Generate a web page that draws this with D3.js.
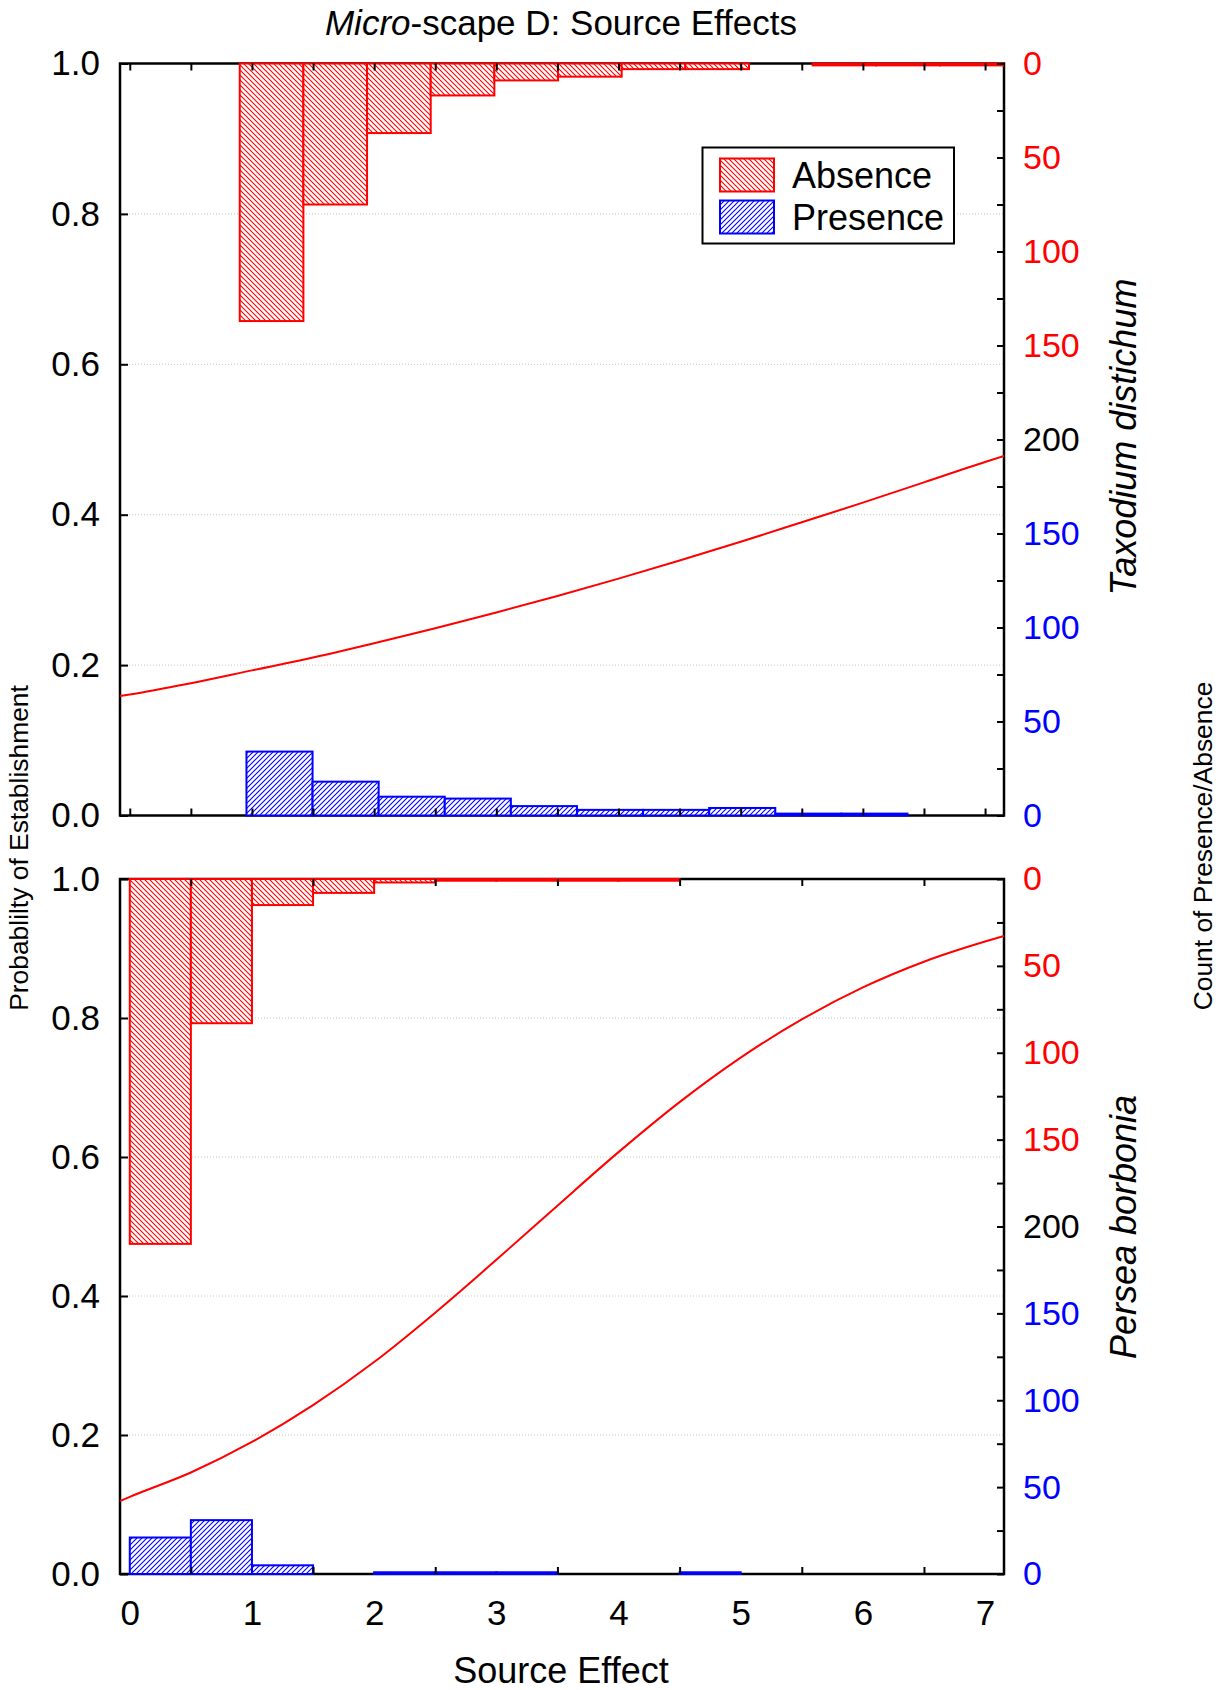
<!DOCTYPE html>
<html>
<head>
<meta charset="utf-8">
<script src="https://cdn.jsdelivr.net/npm/d3@7"></script>
<style>
  body { margin: 0; background: #fff; }
  svg { display: block; }
  text { font-family: "Liberation Sans", Arial, sans-serif; }
</style>
</head>
<body>
<svg id="chart" width="1225" height="1690"></svg>
<script>
// ---- axis values ----
const probTicks = [0, 0.2, 0.4, 0.6, 0.8, 1.0];
const probGrid = [0.2, 0.4, 0.6, 0.8];
const xLabelTicks = [0, 1, 2, 3, 4, 5, 6, 7];
const xHalfTicks = [0, 0.5, 1, 1.5, 2, 2.5, 3, 3.5, 4, 4.5, 5, 5.5, 6, 6.5, 7];
const xOddHalfTicks = [0.5, 1.5, 2.5, 3.5, 4.5, 5.5, 6.5];
const countTicks = [0, 25, 50, 75, 100, 125, 150, 175, 200, 225, 250, 275, 300, 325, 350, 375, 400];
const countLabelAt = [0, 50, 100, 150, 200, 250, 300, 350, 400];
const countLabelText = ["0", "50", "100", "150", "200", "150", "100", "50", "0"];

// ---- Taxodium distichum ----
const taxodiumAbsenceEdges = [0.9, 1.421, 1.942, 2.463, 2.984, 3.505, 4.026, 4.547, 5.068, 5.589, 6.11, 6.631, 7.152, 7.673];
const taxodiumAbsenceCounts = [137, 75, 37, 17, 9, 7, 3, 3, 0, 1, 1, 1, 1];
const taxodiumPresenceEdges = [0.955, 1.496, 2.037, 2.578, 3.119, 3.66, 4.201, 4.742, 5.283, 5.824, 6.365];
const taxodiumPresenceCounts = [34, 18, 10, 9, 5, 3, 3, 4, 1, 1];
const taxodiumCurveX = [-0.08, 0, 0.5, 1, 1.5, 2, 2.5, 3, 3.5, 4, 4.5, 5, 5.5, 6, 6.5, 7, 7.155];
const taxodiumCurveP = [0.159, 0.161, 0.176, 0.193, 0.21, 0.229, 0.249, 0.27, 0.292, 0.315, 0.339, 0.364, 0.39, 0.416, 0.443, 0.47, 0.478];

// ---- Persea borbonia ----
const perseaEdges = [0, 0.5, 1, 1.5, 2, 2.5, 3, 3.5, 4, 4.5, 5];
const perseaAbsenceCounts = [210, 83, 15, 8, 2, 1, 1, 1, 1, 0];
const perseaPresenceCounts = [21, 31, 5, 0, 1, 1, 1, 0, 0, 1];
const perseaCurveX = [-0.08, 0, 0.5, 1, 1.5, 2, 2.5, 3, 3.5, 4, 4.5, 5, 5.5, 6, 6.5, 7, 7.155];
const perseaCurveP = [0.105, 0.111, 0.146, 0.19, 0.243, 0.305, 0.376, 0.452, 0.53, 0.607, 0.679, 0.743, 0.798, 0.844, 0.881, 0.91, 0.918];

const legendNames = ["Absence", "Presence"];

// ---- layout ----
const svg = d3.select("#chart");
const L = 120, R = 1004;
const RED = "#ff0000", BLUE = "#0000ff";
const x = d3.scaleLinear().domain([-0.08, 7.155]).range([L, R]);

const defs = svg.append("defs");
function hatch(id, color, dir) {
  const s = 5;
  const p = defs.append("pattern").attr("id", id)
    .attr("patternUnits", "userSpaceOnUse").attr("width", s).attr("height", s);
  p.append("rect").attr("width", s).attr("height", s).attr("fill", "#fff");
  const d = dir === "back"
    ? `M0,0L${s},${s}M-1,${s - 1}L1,${s + 1}M${s - 1},-1L${s + 1},1`
    : `M0,${s}L${s},0M-1,1L1,-1M${s - 1},${s + 1}L${s + 1},${s - 1}`;
  p.append("path").attr("d", d).attr("stroke", color).attr("stroke-width", 1.1);
}
hatch("hatchAbs", RED, "back");
hatch("hatchPres", BLUE, "fwd");

const panels = [
  { top: 63.5, bottom: 815.5, species: "Taxodium distichum", speciesY: 437,
    absEdges: taxodiumAbsenceEdges, absCounts: taxodiumAbsenceCounts,
    presEdges: taxodiumPresenceEdges, presCounts: taxodiumPresenceCounts,
    curveX: taxodiumCurveX, curveP: taxodiumCurveP, xTicks: xHalfTicks, legend: true },
  { top: 879, bottom: 1574, species: "Persea borbonia", speciesY: 1227,
    absEdges: perseaEdges, absCounts: perseaAbsenceCounts,
    presEdges: perseaEdges, presCounts: perseaPresenceCounts,
    curveX: perseaCurveX, curveP: perseaCurveP, xTicks: xOddHalfTicks, legend: false }
];

function styleAxis(g, fontSize) {
  g.select(".domain").remove();
  g.selectAll(".tick line").attr("stroke", "#000").attr("stroke-width", 2);
  g.selectAll(".tick text").attr("fill", "#000").attr("font-size", fontSize)
    .attr("font-family", "\"Liberation Sans\", Arial, sans-serif");
}

panels.forEach((pn, i) => {
  const { top, bottom } = pn;
  const yP = d3.scaleLinear().domain([0, 1]).range([bottom, top]);
  const yAbs = d3.scaleLinear().domain([0, 400]).range([top, bottom]);
  const yPres = d3.scaleLinear().domain([0, 400]).range([bottom, top]);
  const g = svg.append("g");

  const clipId = "clip" + i;
  defs.append("clipPath").attr("id", clipId).append("rect")
    .attr("x", L).attr("y", top - 2).attr("width", R - L).attr("height", bottom - top + 4);

  // dotted gridlines
  g.append("g").selectAll("line").data(probGrid).join("line")
    .attr("x1", L).attr("x2", R).attr("y1", d => yP(d)).attr("y2", d => yP(d))
    .attr("stroke", "#c8c8c8").attr("stroke-width", 1).attr("stroke-dasharray", "1,2");

  // frame
  g.append("rect").attr("x", L).attr("y", top).attr("width", R - L).attr("height", bottom - top)
    .attr("fill", "none").attr("stroke", "#000").attr("stroke-width", 2.5);

  const bars = g.append("g").attr("clip-path", `url(#${clipId})`);
  // absence counts hang from the top edge
  bars.append("g").selectAll("rect")
    .data(pn.absCounts.map((c, k) => ({ c, x0: pn.absEdges[k], x1: pn.absEdges[k + 1] })).filter(d => d.c > 0))
    .join("rect")
    .attr("x", d => x(d.x0)).attr("width", d => x(d.x1) - x(d.x0))
    .attr("y", top).attr("height", d => yAbs(d.c) - top)
    .attr("fill", "url(#hatchAbs)").attr("stroke", RED).attr("stroke-width", 2);
  // presence counts rise from the bottom edge
  bars.append("g").selectAll("rect")
    .data(pn.presCounts.map((c, k) => ({ c, x0: pn.presEdges[k], x1: pn.presEdges[k + 1] })).filter(d => d.c > 0))
    .join("rect")
    .attr("x", d => x(d.x0)).attr("width", d => x(d.x1) - x(d.x0))
    .attr("y", d => yPres(d.c)).attr("height", d => bottom - yPres(d.c))
    .attr("fill", "url(#hatchPres)").attr("stroke", BLUE).attr("stroke-width", 2);

  // fitted probability curve
  const line = d3.line().x(d => x(d[0])).y(d => yP(d[1])).curve(d3.curveMonotoneX);
  g.append("path").attr("clip-path", `url(#${clipId})`)
    .datum(pn.curveX.map((v, k) => [v, pn.curveP[k]]))
    .attr("d", line).attr("fill", "none").attr("stroke", RED).attr("stroke-width", 2);

  // left probability axis
  g.append("g").attr("transform", `translate(${L},0)`)
    .call(d3.axisLeft(yP).tickValues(probTicks).tickFormat(d3.format(".1f"))
      .tickSizeInner(-8).tickSizeOuter(0).tickPadding(20))
    .call(a => styleAxis(a, 35));

  // right count axis: absence (red) above, presence (blue) below
  const rightAxis = g.append("g").attr("transform", `translate(${R},0)`)
    .call(d3.axisRight(yAbs).tickValues(countTicks)
      .tickFormat(d => { const k = countLabelAt.indexOf(d); return k >= 0 ? countLabelText[k] : ""; })
      .tickSizeInner(-7).tickSizeOuter(0).tickPadding(19))
    .call(a => styleAxis(a, 34));
  rightAxis.selectAll(".tick text").attr("fill", d => d < 200 ? RED : d > 200 ? BLUE : "#000");

  // x ticks on top and bottom edges
  g.append("g").attr("transform", `translate(0,${top})`)
    .call(d3.axisTop(x).tickValues(pn.xTicks).tickFormat("").tickSizeInner(-7).tickSizeOuter(0))
    .call(a => styleAxis(a, 35));
  g.append("g").attr("transform", `translate(0,${bottom})`)
    .call(d3.axisBottom(x).tickValues(pn.xTicks).tickFormat("").tickSizeInner(-7).tickSizeOuter(0))
    .call(a => styleAxis(a, 35));

  // species name
  svg.append("text")
    .attr("transform", `translate(1136,${pn.speciesY}) rotate(-90)`)
    .attr("text-anchor", "middle").attr("font-size", 36).attr("font-style", "italic")
    .text(pn.species);

  if (pn.legend) {
    const lg = g.append("g");
    lg.append("rect").attr("x", 702.5).attr("y", 147.5).attr("width", 251.5).attr("height", 96)
      .attr("fill", "#fff").attr("stroke", "#000").attr("stroke-width", 2);
    const fills = ["url(#hatchAbs)", "url(#hatchPres)"];
    const strokes = [RED, BLUE];
    legendNames.forEach((name, k) => {
      const yy = 158.5 + k * 42;
      lg.append("rect").attr("x", 720).attr("y", yy).attr("width", 54).attr("height", 33)
        .attr("fill", fills[k]).attr("stroke", strokes[k]).attr("stroke-width", 2);
      lg.append("text").attr("x", 792).attr("y", yy + 29).attr("font-size", 36).text(name);
    });
  }

  if (i === 1) {
    // integer labels along the bottom
    g.append("g").attr("transform", `translate(0,${bottom})`)
      .call(d3.axisBottom(x).tickValues(xLabelTicks).tickFormat(d3.format("d"))
        .tickSize(0).tickPadding(26))
      .call(a => styleAxis(a, 35));
  }
});

// titles
const title = svg.append("text").attr("x", 561).attr("y", 35).attr("text-anchor", "middle").attr("font-size", 35);
title.append("tspan").attr("font-style", "italic").text("Micro");
title.append("tspan").text("-scape D: Source Effects");

svg.append("text").attr("x", 561).attr("y", 1683).attr("text-anchor", "middle")
  .attr("font-size", 36).text("Source Effect");

svg.append("text").attr("transform", "translate(28,848) rotate(-90)")
  .attr("text-anchor", "middle").attr("font-size", 26.4).text("Probablilty of Establishment");

svg.append("text").attr("transform", "translate(1212,846) rotate(-90)")
  .attr("text-anchor", "middle").attr("font-size", 26.4).text("Count of Presence/Absence");
</script>
</body>
</html>
